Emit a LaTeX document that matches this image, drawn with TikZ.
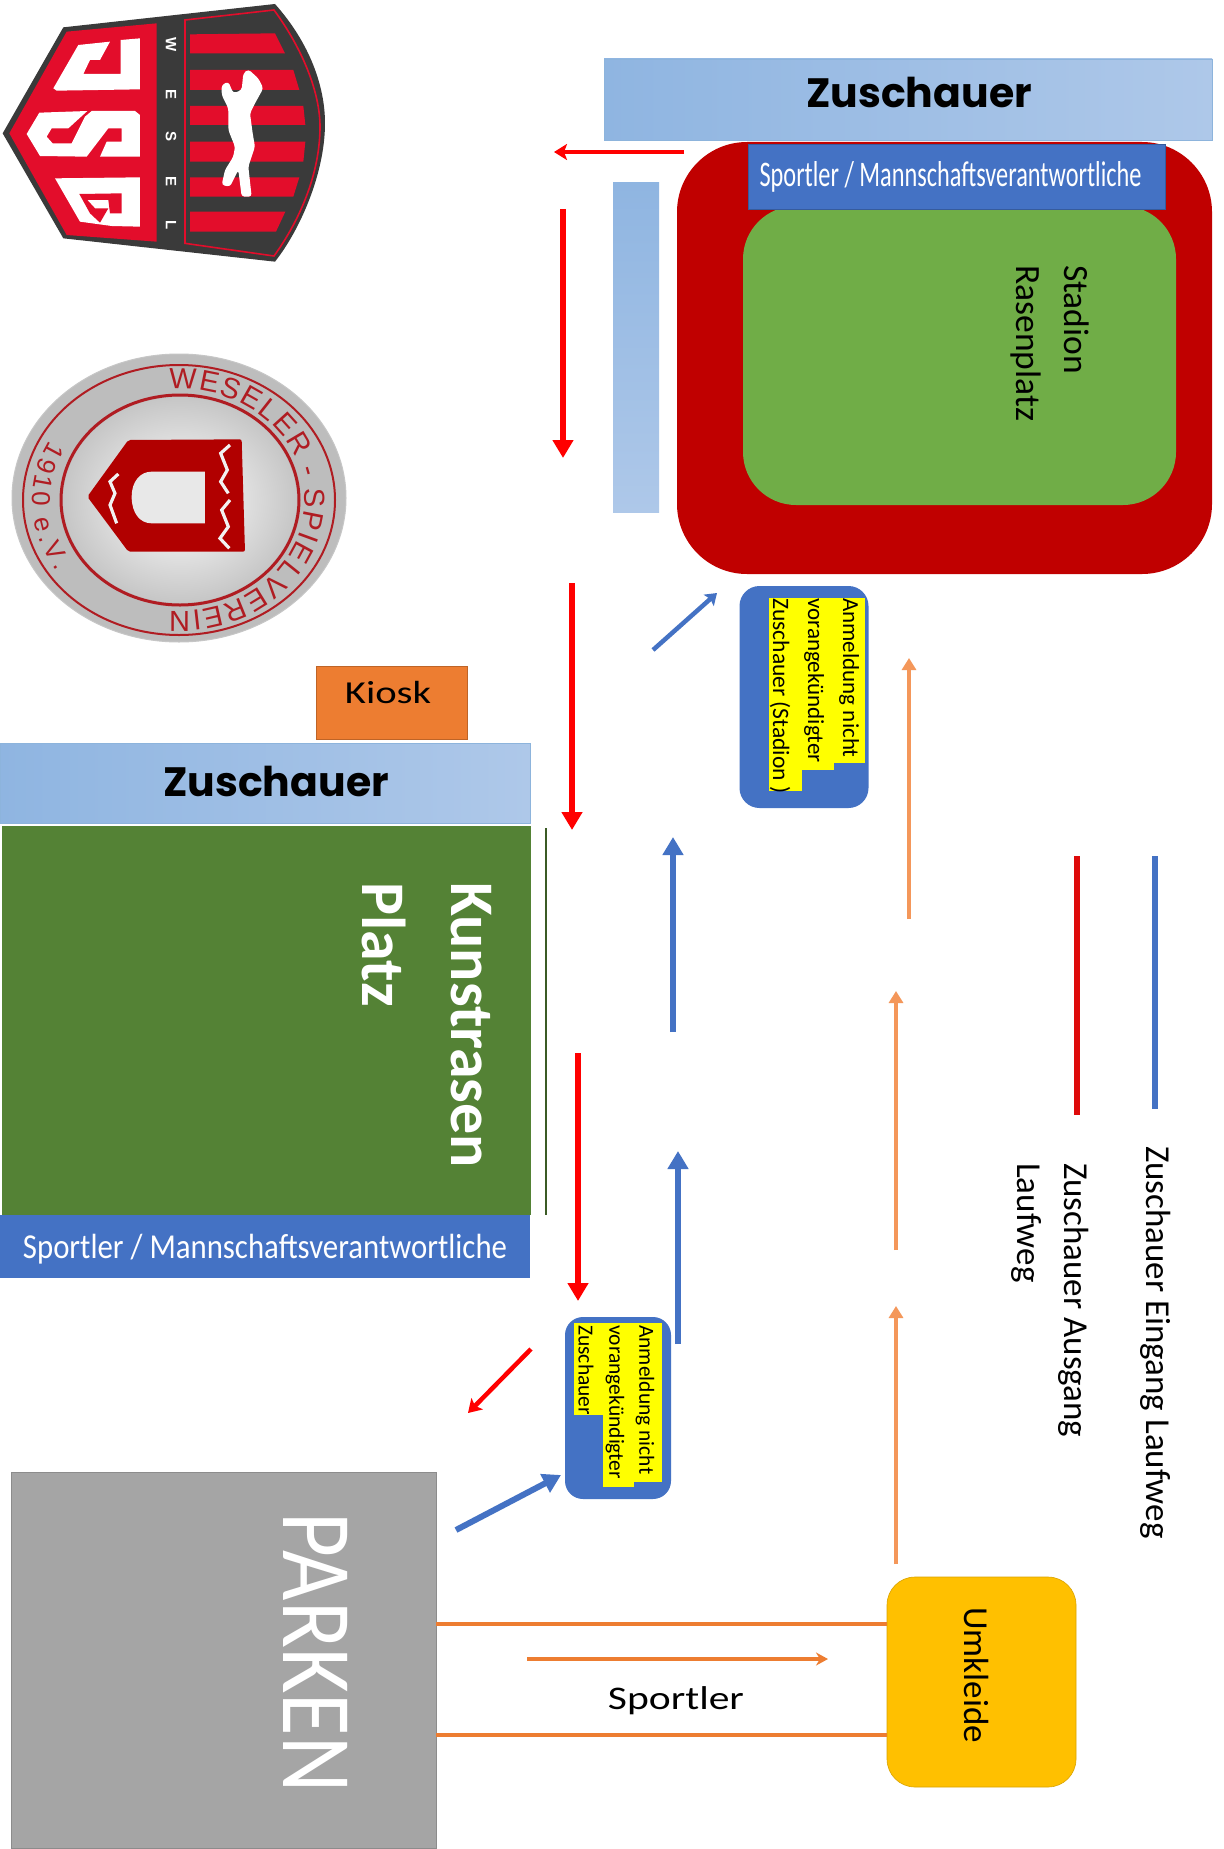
\documentclass[tikz,border=0pt]{standalone}
\usepackage{fontspec}
\usepackage{graphicx}
\setmainfont{Carlito}
\newfontfamily\headfont{Poppins}
\newfontfamily\sealfam{Liberation Sans}
\usetikzlibrary{arrows.meta,decorations.text}
\definecolor{trackred}{HTML}{C00000}
\definecolor{grassgreen}{HTML}{70AD47}
\definecolor{darkgreen}{HTML}{548235}
\definecolor{mblue}{HTML}{4472C4}
\definecolor{kioskorange}{HTML}{ED7D31}
\definecolor{lightorange}{HTML}{F4975A}
\definecolor{skyA}{HTML}{8FB5E1}
\definecolor{skyB}{HTML}{AEC8E9}
\definecolor{skyEdge}{HTML}{8DB4DC}
\definecolor{parkgray}{HTML}{A5A5A5}
\definecolor{umkgold}{HTML}{FFC000}
\definecolor{arrowred}{HTML}{FF0000}
\definecolor{legendred}{HTML}{DE0A0A}
\definecolor{hlyellow}{HTML}{FFFF00}
\definecolor{shielddark}{HTML}{3A3A3A}
\definecolor{shieldred}{HTML}{E30D2B}
\definecolor{sealred}{HTML}{B01C22}
\definecolor{sealgray}{HTML}{BDBDBD}
\definecolor{sealedge}{HTML}{C6C6C6}
\newcommand{\fs}[1]{\fontsize{#1}{#1}\selectfont}
\newcommand{\sealstyle}{\sealfam\fontsize{29}{29}\selectfont\color{sealred}}
\newcommand{\sealstyleB}{\sealfam\fontsize{26}{26}\selectfont\color{sealred}}
\tikzset{
  plainbox/.style={draw=none,inner sep=0pt,outer sep=0pt,align=center},
  skybox/.style={plainbox,draw=skyEdge,line width=.7pt,left color=skyA,right color=skyB},
  bluebar/.style={plainbox,fill=mblue,text=white},
  headtext/.style={inner sep=0pt,font=\headfont\bfseries\fs{41}},
  vtext/.style={inner sep=0pt,rotate=-90,anchor=west,text=black},
  smalltext/.style={vtext,font=\fs{23}},
  smalltextb/.style={vtext,font=\fs{21.5}},
  bigtext/.style={vtext,font=\fs{35.5}},
  legendtext/.style={vtext,font=\fs{35}},
  redarrow/.style={draw=arrowred,line width=6pt,-{Stealth[length=18pt,width=20pt,inset=0pt]}},
  redthin/.style={draw=arrowred,line width=4.5pt,-{Stealth[length=13pt,width=16pt,inset=3pt]}},
  bluearrow/.style={draw=mblue,line width=6pt,-{Stealth[length=18pt,width=20pt,inset=0pt]}},
  bluethin/.style={draw=mblue,line width=4.5pt,-{Stealth[length=11pt,width=15pt,inset=2pt]}},
  orangearrow/.style={draw=lightorange,line width=4.2pt,-{Stealth[length=12pt,width=14pt,inset=0pt]}},
  orangeline/.style={draw=kioskorange,line width=3.2pt},
  legendline/.style={line width=5.5pt},
  shieldletter/.style={inner sep=0pt,text=white,rotate=-90,font=\sealfam\bfseries\fs{15}},
}
\begin{document}
\begin{tikzpicture}[x=1pt,y=-1pt]
\useasboundingbox (0,0) rectangle (1223,1849);
\fill[white] (0,0) rectangle (1223,1849);

% ---- JSG shield, drawn in zoom units
\begin{scope}[x=.33333pt,y=-.33333pt]
  \fill[shielddark] (8,400) -- (190,82) -- (825,12) .. controls (930,130) and (975,260) .. (975,370)
     .. controls (975,520) and (900,690) .. (825,785) -- (190,715) -- cycle;
  \fill[shieldred] (28,400) -- (200,95) -- (470,70) -- (470,725) -- (200,705) -- cycle;
  \fill[white] (160,265) -- (235,135) -- (330,125) -- (300,180) -- (270,180) -- (250,222) -- (362,222)
     -- (362,120) -- (420,115) -- (420,268) -- (170,272) -- cycle;
  \fill[white] (80,402) -- (118,338) -- (262,333) -- (205,385) -- (155,385) -- (140,410) -- (158,430) -- (215,430)
     -- (255,350) -- (275,333) -- (405,333) -- (420,345) -- (420,470) -- (300,470) -- (320,425) -- (365,425)
     -- (365,385) -- (325,385) -- (260,470) -- (120,468) -- cycle;
  \fill[white] (165,535) -- (420,532) -- (420,680) -- (335,678) -- (240,665) -- cycle;
  \fill[shieldred] (238,582) -- (365,580) -- (365,640) -- (330,640) -- (325,600) -- (262,600) -- (285,625)
     -- (325,625) -- (300,668) -- (270,640) -- cycle;
\end{scope}
\begin{scope}[x=.33333pt,y=-.33333pt,xshift=170pt]
  \draw[shieldred,line width=1.6pt] (45,60) -- (312,30) .. controls (400,150) and (450,280) .. (450,380)
     .. controls (450,520) and (390,660) .. (312,768) -- (45,730) -- cycle;
  \fill[shieldred] (60,103) -- (315,100) -- (345,160) -- (60,160) -- cycle;
  \fill[shieldred] (60,210) -- (370,210) -- (388,270) -- (60,270) -- cycle;
  \fill[shieldred] (60,318) -- (400,318) -- (406,375) -- (60,375) -- cycle;
  \fill[shieldred] (60,425) -- (406,425) -- (400,485) -- (60,485) -- cycle;
  \fill[shieldred] (60,532) -- (388,532) -- (370,590) -- (60,590) -- cycle;
  \fill[shieldred] (60,635) -- (346,635) -- (318,695) -- (60,695) -- cycle;
  \fill[white,rounded corners=3pt] (155,255) -- (175,245) -- (190,280) -- (215,270) -- (220,220) -- (235,208)
     -- (265,235) -- (280,265) -- (255,310) -- (240,340) -- (248,400) -- (255,440) -- (235,500) -- (245,590)
     -- (215,590) -- (205,510) -- (180,560) -- (155,555) -- (165,510) -- (190,470) -- (195,440) -- (175,390)
     -- (175,325) -- (155,285) -- cycle;
\end{scope}
\node[shieldletter] (lw) at (171,45) {W};
\node[shieldletter] (le1) at (171,95) {E};
\node[shieldletter] (ls) at (171,137) {S};
\node[shieldletter] (le2) at (171,182) {E};
\node[shieldletter] (ll) at (171,225) {L};

% ---- Seal
\fill[sealgray] (179,498) circle[x radius=167,y radius=144];
\draw[gray!45,line width=1pt] (179,498) circle[x radius=167,y radius=144];
\shade[inner color=white,outer color=sealedge] (180,500) circle[x radius=117,y radius=103];
\draw[sealred,line width=2pt] (179,500) circle[x radius=156,y radius=135];
\draw[sealred,line width=3pt] (180,500) circle[x radius=119,y radius=105];
\begin{scope}[x=.33333pt,y=-.33333pt,yshift=-350pt]
  \fill[trackred!92!black,rounded corners=2pt] (262,440) -- (385,270) -- (725,268) -- (735,605) -- (385,605) -- cycle;
  \fill[white!82!gray] (395,440) .. controls (395,395) and (420,365) .. (455,365) -- (615,365) -- (615,520) -- (455,520)
     .. controls (420,520) and (395,490) .. (395,440) -- cycle;
  \draw[white!90!gray,line width=3.2pt] (355,372) -- (330,395) -- (345,430) -- (330,465) -- (350,520);
  \draw[white!90!gray,line width=3.2pt] (690,285) -- (662,310) -- (682,360) -- (662,395) -- (685,430);
  \draw[white!90!gray,line width=3.2pt] (690,450) -- (665,480) -- (685,530) -- (660,565) -- (688,595);
\end{scope}
\path[decorate,decoration={text along path,text align=fit to path,
   text={|\sealstyle|WESELER - SPIELVEREIN}}]
   (180,500) ++(-95:125 and 111) arc[start angle=-95,end angle=95,x radius=125,y radius=111];
\path[decorate,decoration={text along path,text align=fit to path,
   text={|\sealstyleB|1910 e.V.}}]
   (180,500) ++(208:148 and 127) arc[start angle=208,end angle=146,x radius=148,y radius=127];

% ---- Stadium
\node[plainbox,fill=trackred,rounded corners=70pt,minimum width=535pt,minimum height=432pt] (track) at (944.5,358) {};
\node[plainbox,fill=grassgreen,rounded corners=53pt,minimum width=433pt,minimum height=299pt] (rasen) at (959.5,355.5) {};
\node[bluebar,draw=mblue!80!black,line width=.5pt,minimum width=417pt,minimum height=65pt,font=\fs{36}] (headerA) at (956.5,176.5) {\hspace*{-12pt}\scalebox{.675}[1]{Sportler / Mannschaftsverantwortliche}};
\node[skybox,minimum width=608pt,minimum height=81pt] (zuA) at (908,99.5) {};
\node[headtext] (zuAt) at (919,92) {Zuschauer};
\node[plainbox,draw=none,top color=skyA,bottom color=skyB,minimum width=46pt,minimum height=330pt] (strip) at (636,347) {};
\node[bigtext] (stadion) at (1077,265) {Stadion};
\node[bigtext] (rasenplatz) at (1026,265) {Rasenplatz};

% ---- Stadium registration
\node[plainbox,fill=mblue,rounded corners=20pt,minimum width=129pt,minimum height=222pt] (regA) at (804,697) {};
\fill[hlyellow] (769,598) rectangle (802,791);
\fill[hlyellow] (802,598) rectangle (834,770);
\fill[hlyellow] (834,598) rectangle (865,763);
\node[smalltext] (regA1) at (849,598) {Anmeldung nicht};
\node[smalltext] (regA2) at (814,598) {vorangekündigter};
\node[smalltext,font=\fs{23.5}] (regA3) at (780,598) {Zuschauer (Stadion )};

% ---- Kiosk and Kunstrasen
\node[plainbox,fill=kioskorange,draw=kioskorange!80!black,line width=.5pt,minimum width=151pt,minimum height=73pt] (kiosk) at (391.5,702.5) {};
\node[inner sep=0pt,font=\fs{32}] (kiosktxt) at (388,693) {\scalebox{1.27}[1]{Kiosk}};
\node[skybox,minimum width=530pt,minimum height=80pt] (zuB) at (265,783) {};
\node[headtext] (zuBt) at (276,781) {Zuschauer};
\node[plainbox,fill=darkgreen,minimum width=529pt,minimum height=389pt] (kunst) at (266.5,1020.5) {};
\node[vtext,text=white,font=\bfseries\fs{62}] (kunstA) at (471,882) {Kunstrasen};
\node[vtext,text=white,font=\bfseries\fs{62}] (kunstB) at (384,882) {Platz};
\node[bluebar,minimum width=530pt,minimum height=63pt] (headerB) at (265,1246.5) {};
\node[inner sep=0pt,text=white,font=\fs{35}] (headerBt) at (265,1249) {\scalebox{.88}[1]{Sportler / Mannschaftsverantwortliche}};
\coordinate (sepA) at (546,828);
\coordinate (sepB) at (546,1215);
\draw[darkgreen!70!black,line width=1.2pt] (sepA) -- (sepB);

% ---- Registration by the Kunstrasen
\node[plainbox,fill=mblue,rounded corners=18pt,minimum width=106pt,minimum height=182pt] (regB) at (618,1408) {};
\fill[hlyellow] (574,1323) rectangle (603,1415);
\fill[hlyellow] (603,1323) rectangle (634,1487);
\fill[hlyellow] (634,1323) rectangle (662,1482);
\node[smalltextb] (regB1) at (645,1325) {Anmeldung nicht};
\node[smalltextb] (regB2) at (615,1325) {vorangekündigter};
\node[smalltextb] (regB3) at (586,1325) {Zuschauer};

% ---- Parking and changing room
\node[plainbox,fill=parkgray,draw=gray!90,line width=.5pt,minimum width=425pt,minimum height=376pt] (parken) at (223.5,1660) {};
\node[vtext,text=white,font=\fs{100}] (parkentxt) at (316,1512) {\scalebox{.87}[1]{PARKEN}};
\node[plainbox,fill=umkgold,draw=umkgold!85!black,line width=.6pt,rounded corners=28pt,minimum width=189pt,minimum height=210pt] (umkleide) at (981.5,1682) {};
\node[vtext,anchor=center,font=\fs{35}] (umktxt) at (977,1675) {Umkleide};
\coordinate (laneA) at (650,1624);
\coordinate (laneB) at (650,1735);
\draw[orangeline] (parken.east |- laneA) -- (umkleide.west |- laneA);
\draw[orangeline] (parken.east |- laneB) -- (umkleide.west |- laneB);
\coordinate (spA) at (527,1659);
\coordinate (spB) at (828,1659);
\draw[draw=kioskorange,line width=3.5pt,-{Stealth[length=12pt,width=13pt]}] (spA) -- (spB);
\node[inner sep=0pt,font=\fs{33}] (sportlertxt) at (676,1701) {\scalebox{1.26}[1]{Sportler}};

% ---- Red arrows
\coordinate (r1a) at (684,152);  \coordinate (r1b) at (554,152);
\coordinate (r2a) at (563,209);  \coordinate (r2b) at (563,458);
\coordinate (r3a) at (572,583);  \coordinate (r3b) at (572,830);
\coordinate (r4a) at (578,1053); \coordinate (r4b) at (578,1301);
\coordinate (r5a) at (531,1349); \coordinate (r5b) at (468,1413);
\draw[redthin] (r1a) -- (r1b);
\draw[redarrow] (r2a) -- (r2b);
\draw[redarrow] (r3a) -- (r3b);
\draw[redarrow] (r4a) -- (r4b);
\draw[redthin] (r5a) -- (r5b);

% ---- Blue arrows
\coordinate (b1a) at (456,1530); \coordinate (b1b) at (561,1475);
\coordinate (b2a) at (678,1344); \coordinate (b2b) at (678,1151);
\coordinate (b3a) at (673,1032); \coordinate (b3b) at (673,837);
\coordinate (b4a) at (653,650);  \coordinate (b4b) at (717,593);
\draw[bluearrow] (b1a) -- (b1b);
\draw[bluearrow] (b2a) -- (b2b);
\draw[bluearrow] (b3a) -- (b3b);
\draw[bluethin] (b4a) -- (b4b);

% ---- Orange arrows
\coordinate (o1a) at (909,919);  \coordinate (o1b) at (909,658);
\coordinate (o2a) at (896,1250); \coordinate (o2b) at (896,991);
\coordinate (o3a) at (896,1564); \coordinate (o3b) at (896,1306);
\draw[orangearrow] (o1a) -- (o1b);
\draw[orangearrow] (o2a) -- (o2b);
\draw[orangearrow] (o3a) -- (o3b);

% ---- Legend
\coordinate (lg1a) at (1077,856); \coordinate (lg1b) at (1077,1115);
\coordinate (lg2a) at (1155,856); \coordinate (lg2b) at (1155,1109);
\draw[legendline,draw=legendred] (lg1a) -- (lg1b);
\draw[legendline,draw=mblue] (lg2a) -- (lg2b);
\node[legendtext] (lgblue) at (1156,1146) {Zuschauer Eingang Laufweg};
\node[legendtext] (lgred) at (1074,1163) {Zuschauer Ausgang};
\node[legendtext] (lgredb) at (1026,1163) {Laufweg};
\end{tikzpicture}
\end{document}
